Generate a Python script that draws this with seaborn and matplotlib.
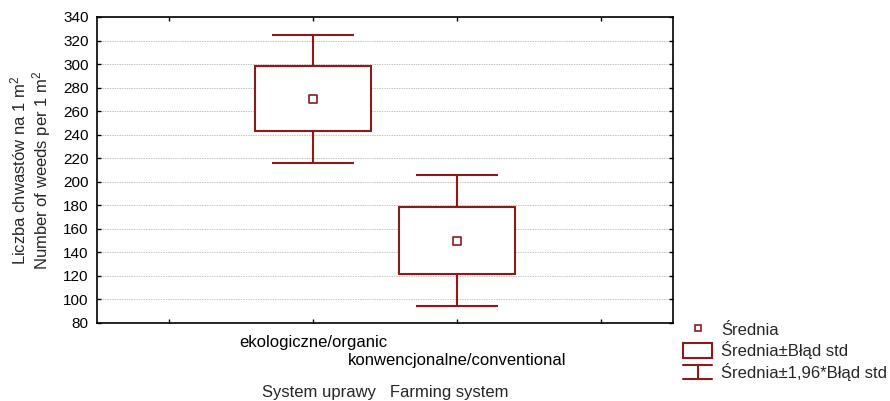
import numpy as np
import pandas as pd
import matplotlib
matplotlib.use("Agg")
import matplotlib.pyplot as plt
import seaborn as sns
from matplotlib.lines import Line2D
from matplotlib.patches import Patch
from matplotlib.legend_handler import HandlerBase

# ================================================
#  Datos
# ================================================
sistemas = ["ekologiczne/organic", "konwencjonalne/conventional"]
posiciones = [1, 2]
media = [270.3, 149.7]
error_sup = [298.4, 178.6]       # media + błąd std
error_inf = [243.1, 121.7]       # media - błąd std
ic_sup = [324.8, 205.7]          # media + 1,96*błąd std
ic_inf = [216.0, 94.5]           # media - 1,96*błąd std

df = pd.DataFrame({
    "Sistema": sistemas,
    "pos": posiciones,
    "media": media,
    "lo": error_inf,
    "hi": error_sup,
    "wlo": ic_inf,
    "whi": ic_sup,
})

rojo = "#8c1a1a"

sns.set_style("ticks")
plt.rcParams["font.family"] = ["Liberation Sans", "DejaVu Sans"]
plt.rcParams["mathtext.default"] = "regular"
plt.rcParams["font.size"] = 12

fig = plt.figure(figsize=(8.9, 4.01), dpi=100)
ax = fig.add_axes([97 / 890, 1 - 323 / 401, 576 / 890, 306 / 401])

# Bigotes (media ± 1,96*błąd std), detrás de la caja
ax.errorbar(
    df["pos"], df["media"],
    yerr=[df["media"] - df["wlo"], df["whi"] - df["media"]],
    fmt="none", ecolor=rojo, elinewidth=1.5, capsize=29.5, capthick=1.5,
    zorder=2,
)

# Cajas (media ± błąd std)
ax.bar(
    df["pos"], df["hi"] - df["lo"], bottom=df["lo"], width=0.8,
    facecolor="white", edgecolor=rojo, linewidth=1.5, zorder=3,
)

# Medias
sns.scatterplot(
    data=df, x="pos", y="media", marker="s", s=30,
    facecolor="white", edgecolor=rojo, linewidth=1.2, zorder=4, ax=ax,
)

# Ejes
ax.set_xlim(-0.5, 3.5)
ax.set_ylim(80, 340)
ax.set_yticks(np.arange(80, 341, 20))
ax.set_xticks([0, 1, 2, 3])
ax.set_xticklabels(["", sistemas[0], sistemas[1], ""])
ax.tick_params(axis="both", direction="in", length=3, width=1,
               top=True, right=True, colors="black")
ax.tick_params(axis="x", pad=9, labelsize=12)
ax.tick_params(axis="y", pad=6, labelsize=11)
# la segunda etiqueta va escalonada más abajo
ax.xaxis.get_major_ticks()[2].set_pad(9 + 12.5)
ax.grid(axis="y", linestyle=(0, (1.5, 1)), color="#c4c4c4", linewidth=0.7)
ax.set_axisbelow(True)
for s in ax.spines.values():
    s.set_linewidth(1.2)
    s.set_color("black")

ax.set_xlabel("System uprawy   Farming system", fontsize=12, labelpad=12)
ax.set_ylabel("Liczba chwastów na 1 m$^2$\nNumber of weeds per 1 m$^2$",
              fontsize=12, labelpad=7, linespacing=1.1)


# Leyenda con símbolo de bigote
class HandlerBigote(HandlerBase):
    def create_artists(self, legend, orig_handle, xdescent, ydescent,
                       width, height, fontsize, trans):
        x0, x1 = -xdescent, -xdescent + width
        y0, y1 = -ydescent, -ydescent + height
        xm = (x0 + x1) / 2
        lineas = [
            Line2D([x0, x1], [y1, y1]),
            Line2D([x0, x1], [y0, y0]),
            Line2D([xm, xm], [y0, y1]),
        ]
        for l in lineas:
            l.set_color(rojo)
            l.set_linewidth(1.5)
            l.set_transform(trans)
        return lineas


class Bigote:
    pass


handles = [
    Line2D([], [], marker="s", ls="", mfc="white", mec=rojo, ms=5, mew=1.2),
    Patch(facecolor="white", edgecolor=rojo, linewidth=1.5),
    Bigote(),
]
labels = ["Średnia", "Średnia±Błąd std", "Średnia±1,96*Błąd std"]
fig.legend(
    handles, labels, handler_map={Bigote: HandlerBigote()},
    loc="upper left", bbox_to_anchor=(683 / 890, 1 - 322 / 401),
    frameon=False, borderpad=0, borderaxespad=0,
    handlelength=1.75, handleheight=0.95, handletextpad=0.55,
    labelspacing=0.2, fontsize=12,
)

fig.savefig("out.png", dpi=100)
